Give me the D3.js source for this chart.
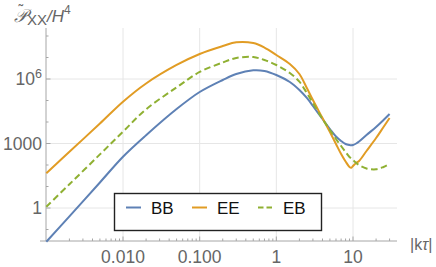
<!DOCTYPE html>
<html><head><meta charset="utf-8">
<script src="https://cdn.jsdelivr.net/npm/d3@7"></script>
<style>body{margin:0;background:#fff}svg{display:block}</style>
</head><body>
<script>
// ---- data ----
const kTau = [0.001,0.002,0.005,0.01,0.02,0.05,0.1,0.2,0.3,0.5,0.7,1,1.5,2,2.5,3,4,5,6,7,8,9,9.5,10,11,12,15,20,25,30];
const BB = [0.027,0.41,15.4,243,2430,4.0e4,2.48e5,9.0e5,1.71e6,2.54e6,2.36e6,1.53e6,7.25e5,3.08e5,1.31e5,5.55e4,1.38e4,4720,2120,1310,950,851,834,851,1000,1240,2490,5850,1.24e4,2.36e4];
const EE = [41,410,8500,8.8e4,6.2e5,4.5e6,1.46e7,3.4e7,5.1e7,4.7e7,2.9e7,1.31e7,5.0e6,1.71e6,3.8e5,1.05e5,1.53e4,3400,950,325,146,81,75,90,124,153,448,1800,5850,1.53e4];
const EB = [1.15,12.7,311,3540,3.9e4,4.07e5,2.12e6,5.85e6,9.5e6,1.05e7,7.65e6,4.48e6,1.9e6,7.5e5,2.23e5,7.65e4,1.38e4,4250,1620,765,403,236,200,171,124,100,69,63,81,111];
const seriesNames = ["BB","EE","EB"];
const xTickVals = [0.01,0.1,1,10];
const xTickLabels = ["0.010","0.100","1","10"];
const yTickVals = [1,1000,1e6];
const yTickLabels = ["1","1000","10^6"];

// ---- layout ----
const W=436,H=267;
const x = d3.scaleLog().domain([0.01,10]).range([123,353]);
const y = d3.scaleLog().domain([1,1e6]).range([208,79]);
const x0 = 46, x1 = 397, yB = 241, yT = 28;
const colors = {BB:"#5E81B5", EE:"#E19C24", EB:"#8FB032"};
const dashes = {BB:null, EE:null, EB:"6.5,3.5"};
const dataMap = {BB, EE, EB};

const svg = d3.select("body").append("svg").attr("width",W).attr("height",H)
  .style("font-family","'Liberation Sans', Arial, sans-serif");

// grid
const g = svg.append("g");
g.selectAll("line.gx").data(xTickVals).join("line")
  .attr("x1",d=>x(d)).attr("x2",d=>x(d)).attr("y1",yB).attr("y2",yT)
  .attr("stroke","#e6e6e6").attr("stroke-width",1);
g.selectAll("line.gy").data(yTickVals).join("line")
  .attr("x1",x0).attr("x2",x1).attr("y1",d=>y(d)).attr("y2",d=>y(d))
  .attr("stroke","#e6e6e6").attr("stroke-width",1);

// axes lines
const axc = "#a6a6a6";
svg.append("line").attr("x1",x0-6).attr("x2",x1).attr("y1",yB).attr("y2",yB).attr("stroke",axc);
svg.append("line").attr("x1",x0).attr("x2",x0).attr("y1",yB).attr("y2",yT).attr("stroke",axc);

// x ticks
const xMinor=[];
for(let e=-3;e<=1;e++) for(let m=2;m<=9;m++){const v=m*Math.pow(10,e); if(x(v)<=x1) xMinor.push(v);}
svg.selectAll("line.xm").data(xMinor).join("line")
  .attr("x1",d=>x(d)).attr("x2",d=>x(d)).attr("y1",yB).attr("y2",yB-2.5).attr("stroke",axc);
svg.selectAll("line.xM").data(xTickVals).join("line")
  .attr("x1",d=>x(d)).attr("x2",d=>x(d)).attr("y1",yB).attr("y2",yB-4.5).attr("stroke",axc);
svg.selectAll("text.xl").data(xTickVals).join("text")
  .attr("x",d=>x(d)).attr("y",263).attr("text-anchor","middle")
  .attr("font-size",17.5).attr("fill","#666").text((d,i)=>xTickLabels[i]);

// y ticks
const yMinor=[];
for(let e=-1;e<=8;e++){const v=Math.pow(10,e); if(e%3!==0 && y(v)>=yT) yMinor.push(v);}
svg.selectAll("line.ym").data(yMinor).join("line")
  .attr("x1",x0).attr("x2",x0+2.5).attr("y1",d=>y(d)).attr("y2",d=>y(d)).attr("stroke",axc);
svg.selectAll("line.yM").data(yTickVals).join("line")
  .attr("x1",x0).attr("x2",x0+4.5).attr("y1",d=>y(d)).attr("y2",d=>y(d)).attr("stroke",axc);
yTickVals.forEach((v,i)=>{
  const lab = yTickLabels[i];
  const t = svg.append("text").attr("x",42).attr("y",y(v)+6.3).attr("text-anchor","end")
    .attr("font-size",17.5).attr("fill","#666");
  if(lab.includes("^")){
    const [b,p]=lab.split("^");
    t.append("tspan").text(b);
    t.append("tspan").attr("dy",-7).attr("font-size",12.5).text(p);
  } else t.text(lab);
});

// curves
const line = d3.line().x(d=>x(d[0])).y(d=>y(d[1])).curve(d3.curveCatmullRom.alpha(0.5));
seriesNames.forEach(n=>{
  const pts = kTau.map((k,i)=>[k,dataMap[n][i]]);
  svg.append("path").attr("d",line(pts)).attr("fill","none")
    .attr("stroke",colors[n]).attr("stroke-width",2)
    .attr("stroke-dasharray",dashes[n]);
});

// legend
const lg = svg.append("g");
lg.append("rect").attr("x",114.5).attr("y",193.5).attr("width",207).attr("height",37)
  .attr("fill","#fff").attr("stroke","#222").attr("stroke-width",1.4);
const legX = [126,192,258];
seriesNames.forEach((n,i)=>{
  lg.append("line").attr("x1",legX[i]).attr("x2",legX[i]+15).attr("y1",207.5).attr("y2",207.5)
    .attr("stroke",colors[n]).attr("stroke-width",2).attr("stroke-dasharray",dashes[n]?"5.5,3":null);
  lg.append("text").attr("x",legX[i]+25).attr("y",214).attr("font-size",17).attr("fill","#111").text(n);
});

// title (tilde placed above the script P within the same text element)
const tt = svg.append("text").attr("fill","#666").attr("font-size",18);
tt.append("tspan").attr("x",18.5).attr("y",15).attr("font-size",14).text("\u02DC");
tt.append("tspan").attr("x",14).attr("y",22).attr("font-family","'DejaVu Serif', serif").attr("font-style","italic").text("\u{1D4AB}");
tt.append("tspan").attr("font-size",15).attr("dy",3).text("XX");
tt.append("tspan").attr("dy",-3).attr("font-style","italic").attr("font-size",17).text("/H");
tt.append("tspan").attr("font-size",12).attr("dy",-8).text("4");

// x axis label
const xl = svg.append("text").attr("x",410).attr("y",250).attr("fill","#666").attr("font-size",16);
xl.append("tspan").text("|k");
xl.append("tspan").attr("font-style","italic").text("\u03C4");
xl.append("tspan").text("|");
</script>
</body></html>
